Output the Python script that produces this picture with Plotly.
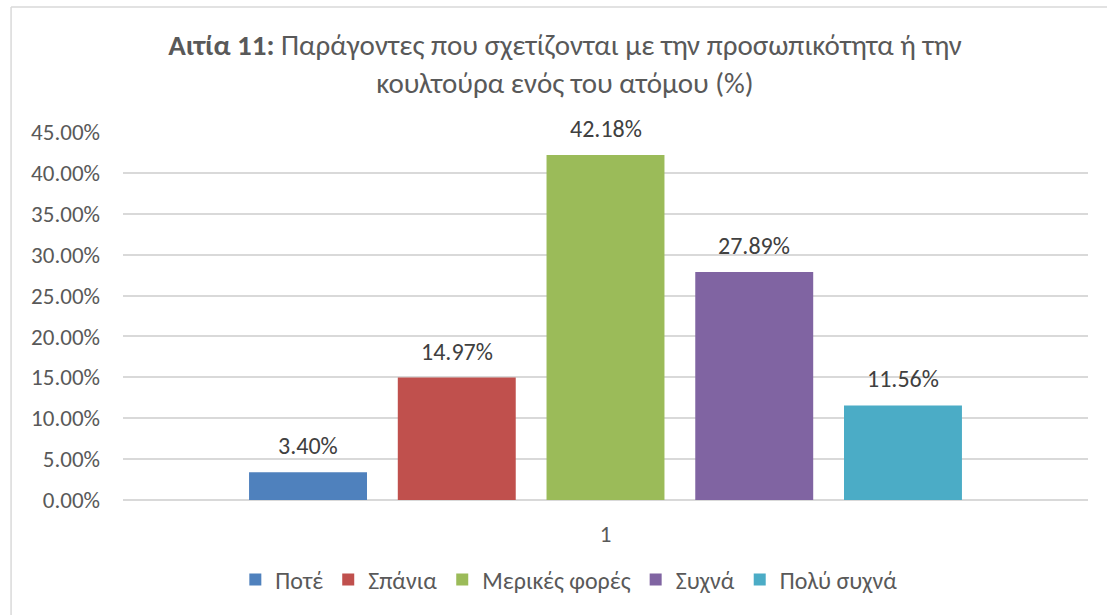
import plotly.graph_objects as go

# Survey responses for a single question (share of respondents)
categories = ["1"]
series_names = ["Ποτέ", "Σπάνια", "Μερικές φορές", "Συχνά", "Πολύ συχνά"]
series_values = [0.0340, 0.1497, 0.4218, 0.2789, 0.1156]
series_colors = ["#4f81bd", "#c0504d", "#9bbb59", "#8064a2", "#4bacc6"]
y_ticks = [0.00, 0.05, 0.10, 0.15, 0.20, 0.25, 0.30, 0.35, 0.40, 0.45]

FONT = "Carlito, Calibri, Lato, sans-serif"
TICK_COLOR = "#595959"
LABEL_COLOR = "#404040"
GRID_COLOR = "#d9d9d9"

n = len(series_names)
center = (n - 1) / 2
bar_width = 0.793
half_span = 3.244  # half the visible x span, in bar slots

fig = go.Figure()
for i, (name, val, col) in enumerate(zip(series_names, series_values, series_colors)):
    fig.add_trace(go.Bar(
        x=[i], y=[val], name=name, width=bar_width,
        marker=dict(color=col, line=dict(width=0)),
        hoverinfo="name+y",
    ))
    fig.add_annotation(
        x=i, y=val, text=f"{val * 100:.2f}%", showarrow=False,
        yanchor="bottom", yshift=10,
        font=dict(family=FONT, size=24, color=LABEL_COLOR),
    )

# Chart frame (top and left edges)
fig.add_shape(type="line", xref="paper", yref="paper",
              x0=-0.116, x1=1.1, y0=1.34, y1=1.34,
              line=dict(color="#d9d9d9", width=1.5))
fig.add_shape(type="line", xref="paper", yref="paper",
              x0=-0.116, x1=-0.116, y0=1.34, y1=-0.4,
              line=dict(color="#d9d9d9", width=1.5))

fig.update_layout(
    width=1107, height=615,
    margin=dict(l=123, r=19, t=132, b=115),
    paper_bgcolor="white", plot_bgcolor="white",
    font=dict(family=FONT, color=TICK_COLOR),
    title=dict(
        text="<b>Αιτία 11:</b> Παράγοντες που σχετίζονται με την προσωπικότητα ή την<br>"
             "κουλτούρα ενός του ατόμου (%)",
        x=0.458, xref="paper", xanchor="center",
        y=0.91, yref="container", yanchor="middle",
        font=dict(family=FONT, size=29, color=TICK_COLOR),
    ),
    showlegend=True,
    legend=dict(
        orientation="h", x=0.462, xanchor="center", y=-0.217, yanchor="middle",
        font=dict(family=FONT, size=24, color=TICK_COLOR),
        itemsizing="constant", traceorder="normal",
    ),
    xaxis=dict(
        range=[center - half_span, center + half_span],
        tickvals=[center], ticktext=categories,
        showgrid=False, zeroline=False, showline=False, ticks="",
        tickfont=dict(family=FONT, size=23, color=TICK_COLOR),
        ticklabelstandoff=18,
    ),
    yaxis=dict(
        range=[0, 0.45], tickvals=y_ticks, tickformat=".2%",
        showgrid=True, gridcolor=GRID_COLOR, gridwidth=1.5,
        zeroline=True, zerolinecolor=GRID_COLOR, zerolinewidth=1.5,
        showline=False, ticks="",
        tickfont=dict(family=FONT, size=23, color=TICK_COLOR),
        ticklabelstandoff=22,
    ),
)

fig.write_html("out.html")
